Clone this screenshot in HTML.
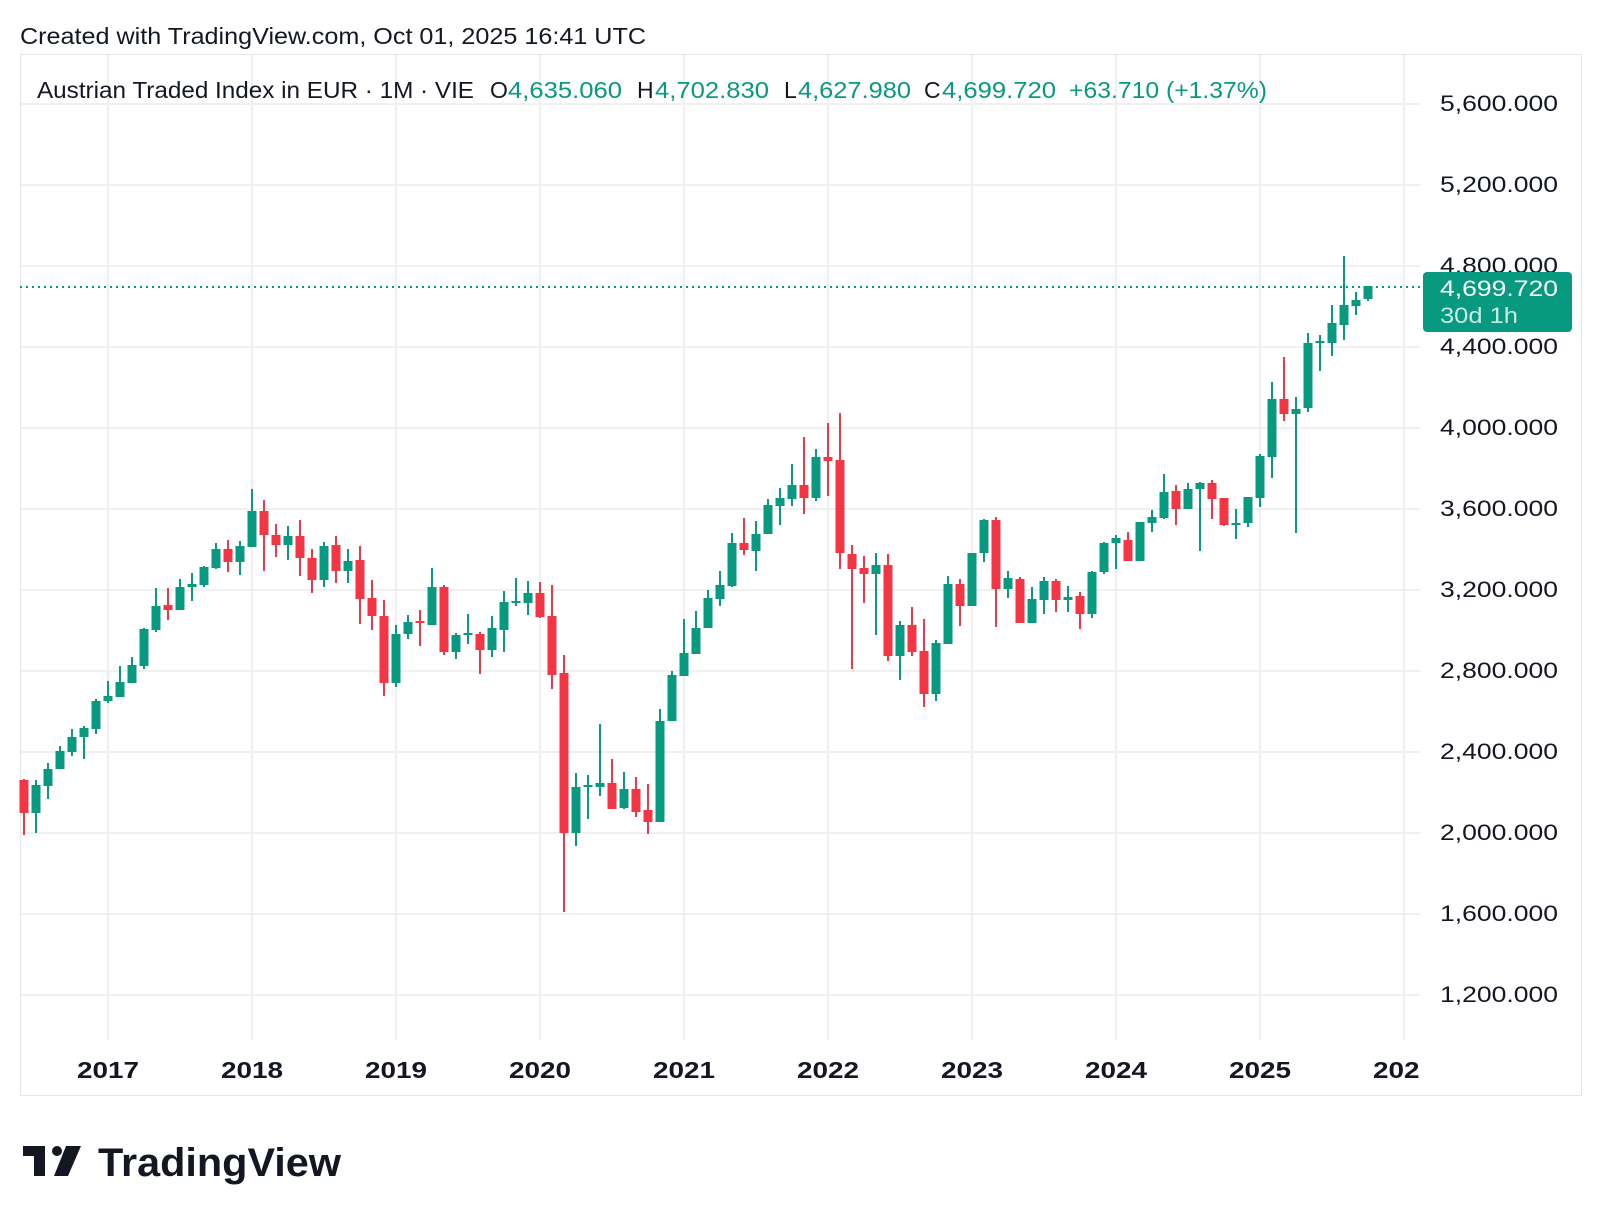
<!DOCTYPE html>
<html><head><meta charset="utf-8"><style>
html,body{margin:0;padding:0;background:#fff;}
body{width:1602px;height:1216px;overflow:hidden;}
svg{display:block;font-family:"Liberation Sans",sans-serif;}
</style></head><body>
<svg width="1602" height="1216" viewBox="0 0 1602 1216" xmlns="http://www.w3.org/2000/svg">
<rect x="0" y="0" width="1602" height="1216" fill="#fff"/>
<text x="20" y="44" font-size="23" fill="#131722" textLength="626" lengthAdjust="spacingAndGlyphs">Created with TradingView.com, Oct 01, 2025 16:41 UTC</text>
<rect x="20.5" y="54.5" width="1561" height="1041" fill="none" stroke="#e6e6e6" stroke-width="1"/>
<g stroke="#f0f0f0" stroke-width="2">
<line x1="21" x2="1420" y1="104" y2="104"/><line x1="21" x2="1420" y1="185" y2="185"/><line x1="21" x2="1420" y1="266" y2="266"/><line x1="21" x2="1420" y1="347" y2="347"/><line x1="21" x2="1420" y1="428" y2="428"/><line x1="21" x2="1420" y1="509" y2="509"/><line x1="21" x2="1420" y1="590" y2="590"/><line x1="21" x2="1420" y1="671" y2="671"/><line x1="21" x2="1420" y1="752" y2="752"/><line x1="21" x2="1420" y1="833" y2="833"/><line x1="21" x2="1420" y1="914" y2="914"/><line x1="21" x2="1420" y1="995" y2="995"/>
<line x1="108" x2="108" y1="55" y2="1040"/><line x1="252" x2="252" y1="55" y2="1040"/><line x1="396" x2="396" y1="55" y2="1040"/><line x1="540" x2="540" y1="55" y2="1040"/><line x1="684" x2="684" y1="55" y2="1040"/><line x1="828" x2="828" y1="55" y2="1040"/><line x1="972" x2="972" y1="55" y2="1040"/><line x1="1116" x2="1116" y1="55" y2="1040"/><line x1="1260" x2="1260" y1="55" y2="1040"/><line x1="1404" x2="1404" y1="55" y2="1040"/>
</g>
<g font-size="22" fill="#131722">
<text x="1440" y="111" textLength="118" lengthAdjust="spacingAndGlyphs">5,600.000</text><text x="1440" y="192" textLength="118" lengthAdjust="spacingAndGlyphs">5,200.000</text><text x="1440" y="273" textLength="118" lengthAdjust="spacingAndGlyphs">4,800.000</text><text x="1440" y="354" textLength="118" lengthAdjust="spacingAndGlyphs">4,400.000</text><text x="1440" y="435" textLength="118" lengthAdjust="spacingAndGlyphs">4,000.000</text><text x="1440" y="516" textLength="118" lengthAdjust="spacingAndGlyphs">3,600.000</text><text x="1440" y="597" textLength="118" lengthAdjust="spacingAndGlyphs">3,200.000</text><text x="1440" y="678" textLength="118" lengthAdjust="spacingAndGlyphs">2,800.000</text><text x="1440" y="759" textLength="118" lengthAdjust="spacingAndGlyphs">2,400.000</text><text x="1440" y="840" textLength="118" lengthAdjust="spacingAndGlyphs">2,000.000</text><text x="1440" y="921" textLength="118" lengthAdjust="spacingAndGlyphs">1,600.000</text><text x="1440" y="1002" textLength="118" lengthAdjust="spacingAndGlyphs">1,200.000</text>
</g>
<defs><clipPath id="pc"><rect x="20" y="1040" width="1400" height="60"/></clipPath></defs>
<g font-size="23" font-weight="bold" fill="#131722" clip-path="url(#pc)">
<text x="77" y="1078" textLength="62" lengthAdjust="spacingAndGlyphs">2017</text><text x="221" y="1078" textLength="62" lengthAdjust="spacingAndGlyphs">2018</text><text x="365" y="1078" textLength="62" lengthAdjust="spacingAndGlyphs">2019</text><text x="509" y="1078" textLength="62" lengthAdjust="spacingAndGlyphs">2020</text><text x="653" y="1078" textLength="62" lengthAdjust="spacingAndGlyphs">2021</text><text x="797" y="1078" textLength="62" lengthAdjust="spacingAndGlyphs">2022</text><text x="941" y="1078" textLength="62" lengthAdjust="spacingAndGlyphs">2023</text><text x="1085" y="1078" textLength="62" lengthAdjust="spacingAndGlyphs">2024</text><text x="1229" y="1078" textLength="62" lengthAdjust="spacingAndGlyphs">2025</text><text x="1373" y="1078" textLength="62" lengthAdjust="spacingAndGlyphs">2026</text>
</g>
<line x1="20" x2="1423" y1="287" y2="287" stroke="#089981" stroke-width="2" stroke-dasharray="2 4"/>
<g stroke="#f23645" stroke-width="2">
<line x1="24" x2="24" y1="779" y2="835"/><line x1="168" x2="168" y1="588" y2="620"/><line x1="228" x2="228" y1="540" y2="572"/><line x1="264" x2="264" y1="500" y2="571"/><line x1="276" x2="276" y1="524" y2="557"/><line x1="300" x2="300" y1="520" y2="576"/><line x1="312" x2="312" y1="549" y2="593"/><line x1="336" x2="336" y1="536" y2="583"/><line x1="360" x2="360" y1="546" y2="624"/><line x1="372" x2="372" y1="580" y2="630"/><line x1="384" x2="384" y1="600" y2="696"/><line x1="420" x2="420" y1="610" y2="646"/><line x1="444" x2="444" y1="585" y2="655"/><line x1="480" x2="480" y1="632" y2="674"/><line x1="540" x2="540" y1="582" y2="618"/><line x1="552" x2="552" y1="585" y2="689"/><line x1="564" x2="564" y1="655" y2="912"/><line x1="612" x2="612" y1="759" y2="809"/><line x1="636" x2="636" y1="777" y2="817"/><line x1="648" x2="648" y1="784" y2="834"/><line x1="744" x2="744" y1="518" y2="555"/><line x1="804" x2="804" y1="437" y2="514"/><line x1="828" x2="828" y1="423" y2="496"/><line x1="840" x2="840" y1="413" y2="569"/><line x1="852" x2="852" y1="545" y2="669"/><line x1="864" x2="864" y1="556" y2="603"/><line x1="888" x2="888" y1="554" y2="661"/><line x1="912" x2="912" y1="607" y2="656"/><line x1="924" x2="924" y1="619" y2="707"/><line x1="960" x2="960" y1="579" y2="626"/><line x1="996" x2="996" y1="517" y2="627"/><line x1="1020" x2="1020" y1="577" y2="623"/><line x1="1056" x2="1056" y1="579" y2="612"/><line x1="1080" x2="1080" y1="592" y2="629"/><line x1="1128" x2="1128" y1="532" y2="561"/><line x1="1176" x2="1176" y1="485" y2="525"/><line x1="1212" x2="1212" y1="480" y2="519"/><line x1="1224" x2="1224" y1="498" y2="526"/><line x1="1284" x2="1284" y1="357" y2="421"/>
</g>
<g fill="#f23645">
<rect x="19.5" y="780" width="9" height="33"/><rect x="163.5" y="605" width="9" height="5"/><rect x="223.5" y="549" width="9" height="13"/><rect x="259.5" y="511" width="9" height="24"/><rect x="271.5" y="535" width="9" height="10"/><rect x="295.5" y="536" width="9" height="22"/><rect x="307.5" y="558" width="9" height="22"/><rect x="331.5" y="545" width="9" height="26"/><rect x="355.5" y="560" width="9" height="39"/><rect x="367.5" y="598" width="9" height="18"/><rect x="379.5" y="616" width="9" height="67"/><rect x="415.5" y="621" width="9" height="2"/><rect x="439.5" y="587" width="9" height="65"/><rect x="475.5" y="634" width="9" height="16"/><rect x="535.5" y="593" width="9" height="24"/><rect x="547.5" y="616" width="9" height="59"/><rect x="559.5" y="673" width="9" height="160"/><rect x="607.5" y="783" width="9" height="26"/><rect x="631.5" y="789" width="9" height="23"/><rect x="643.5" y="810" width="9" height="12"/><rect x="739.5" y="543" width="9" height="7"/><rect x="799.5" y="485" width="9" height="13"/><rect x="823.5" y="457" width="9" height="4"/><rect x="835.5" y="460" width="9" height="93"/><rect x="847.5" y="554" width="9" height="15"/><rect x="859.5" y="568" width="9" height="6"/><rect x="883.5" y="565" width="9" height="91"/><rect x="907.5" y="625" width="9" height="27"/><rect x="919.5" y="651" width="9" height="43"/><rect x="955.5" y="584" width="9" height="22"/><rect x="991.5" y="520" width="9" height="69"/><rect x="1015.5" y="579" width="9" height="44"/><rect x="1051.5" y="581" width="9" height="19"/><rect x="1075.5" y="596" width="9" height="18"/><rect x="1123.5" y="540" width="9" height="21"/><rect x="1171.5" y="491" width="9" height="18"/><rect x="1207.5" y="483" width="9" height="16"/><rect x="1219.5" y="498" width="9" height="27"/><rect x="1279.5" y="399" width="9" height="15"/>
</g>
<g stroke="#089981" stroke-width="2">
<line x1="36" x2="36" y1="780" y2="833"/><line x1="48" x2="48" y1="763" y2="799"/><line x1="60" x2="60" y1="746" y2="769"/><line x1="72" x2="72" y1="729" y2="756"/><line x1="84" x2="84" y1="726" y2="759"/><line x1="96" x2="96" y1="699" y2="734"/><line x1="108" x2="108" y1="681" y2="703"/><line x1="120" x2="120" y1="666" y2="697"/><line x1="132" x2="132" y1="657" y2="683"/><line x1="144" x2="144" y1="628" y2="669"/><line x1="156" x2="156" y1="588" y2="632"/><line x1="180" x2="180" y1="579" y2="610"/><line x1="192" x2="192" y1="573" y2="601"/><line x1="204" x2="204" y1="566" y2="587"/><line x1="216" x2="216" y1="543" y2="569"/><line x1="240" x2="240" y1="541" y2="575"/><line x1="252" x2="252" y1="489" y2="547"/><line x1="288" x2="288" y1="526" y2="560"/><line x1="324" x2="324" y1="542" y2="587"/><line x1="348" x2="348" y1="549" y2="583"/><line x1="396" x2="396" y1="625" y2="687"/><line x1="408" x2="408" y1="615" y2="639"/><line x1="432" x2="432" y1="568" y2="625"/><line x1="456" x2="456" y1="633" y2="659"/><line x1="468" x2="468" y1="614" y2="644"/><line x1="492" x2="492" y1="616" y2="657"/><line x1="504" x2="504" y1="591" y2="652"/><line x1="516" x2="516" y1="578" y2="606"/><line x1="528" x2="528" y1="581" y2="615"/><line x1="576" x2="576" y1="773" y2="846"/><line x1="588" x2="588" y1="775" y2="819"/><line x1="600" x2="600" y1="724" y2="796"/><line x1="624" x2="624" y1="772" y2="809"/><line x1="660" x2="660" y1="709" y2="822"/><line x1="672" x2="672" y1="671" y2="721"/><line x1="684" x2="684" y1="619" y2="676"/><line x1="696" x2="696" y1="611" y2="654"/><line x1="708" x2="708" y1="590" y2="628"/><line x1="720" x2="720" y1="571" y2="606"/><line x1="732" x2="732" y1="533" y2="587"/><line x1="756" x2="756" y1="521" y2="571"/><line x1="768" x2="768" y1="499" y2="534"/><line x1="780" x2="780" y1="488" y2="525"/><line x1="792" x2="792" y1="464" y2="506"/><line x1="816" x2="816" y1="449" y2="501"/><line x1="876" x2="876" y1="553" y2="635"/><line x1="900" x2="900" y1="621" y2="680"/><line x1="936" x2="936" y1="640" y2="701"/><line x1="948" x2="948" y1="576" y2="644"/><line x1="972" x2="972" y1="553" y2="606"/><line x1="984" x2="984" y1="519" y2="562"/><line x1="1008" x2="1008" y1="571" y2="598"/><line x1="1032" x2="1032" y1="587" y2="623"/><line x1="1044" x2="1044" y1="577" y2="614"/><line x1="1068" x2="1068" y1="586" y2="612"/><line x1="1092" x2="1092" y1="571" y2="618"/><line x1="1104" x2="1104" y1="542" y2="574"/><line x1="1116" x2="1116" y1="535" y2="569"/><line x1="1140" x2="1140" y1="522" y2="561"/><line x1="1152" x2="1152" y1="510" y2="532"/><line x1="1164" x2="1164" y1="474" y2="519"/><line x1="1188" x2="1188" y1="483" y2="509"/><line x1="1200" x2="1200" y1="482" y2="551"/><line x1="1236" x2="1236" y1="509" y2="539"/><line x1="1248" x2="1248" y1="497" y2="527"/><line x1="1260" x2="1260" y1="454" y2="507"/><line x1="1272" x2="1272" y1="382" y2="478"/><line x1="1296" x2="1296" y1="397" y2="533"/><line x1="1308" x2="1308" y1="333" y2="412"/><line x1="1320" x2="1320" y1="335" y2="371"/><line x1="1332" x2="1332" y1="305" y2="356"/><line x1="1344" x2="1344" y1="256" y2="340"/><line x1="1356" x2="1356" y1="292" y2="315"/><line x1="1368" x2="1368" y1="286" y2="301"/>
</g>
<g fill="#089981">
<rect x="31.5" y="785" width="9" height="28"/><rect x="43.5" y="769" width="9" height="17"/><rect x="55.5" y="751" width="9" height="18"/><rect x="67.5" y="737" width="9" height="15"/><rect x="79.5" y="728" width="9" height="9"/><rect x="91.5" y="701" width="9" height="28"/><rect x="103.5" y="696" width="9" height="5"/><rect x="115.5" y="682" width="9" height="15"/><rect x="127.5" y="665" width="9" height="18"/><rect x="139.5" y="629" width="9" height="37"/><rect x="151.5" y="606" width="9" height="24"/><rect x="175.5" y="587" width="9" height="23"/><rect x="187.5" y="584" width="9" height="3"/><rect x="199.5" y="567" width="9" height="18"/><rect x="211.5" y="549" width="9" height="19"/><rect x="235.5" y="546" width="9" height="16"/><rect x="247.5" y="511" width="9" height="36"/><rect x="283.5" y="536" width="9" height="9"/><rect x="319.5" y="546" width="9" height="34"/><rect x="343.5" y="561" width="9" height="10"/><rect x="391.5" y="634" width="9" height="49"/><rect x="403.5" y="622" width="9" height="12"/><rect x="427.5" y="587" width="9" height="38"/><rect x="451.5" y="635" width="9" height="17"/><rect x="463.5" y="633" width="9" height="2"/><rect x="487.5" y="628" width="9" height="22"/><rect x="499.5" y="602" width="9" height="28"/><rect x="511.5" y="601" width="9" height="2"/><rect x="523.5" y="593" width="9" height="10"/><rect x="571.5" y="787" width="9" height="46"/><rect x="583.5" y="785" width="9" height="2"/><rect x="595.5" y="783" width="9" height="4"/><rect x="619.5" y="789" width="9" height="19"/><rect x="655.5" y="721" width="9" height="101"/><rect x="667.5" y="675" width="9" height="46"/><rect x="679.5" y="653" width="9" height="23"/><rect x="691.5" y="628" width="9" height="26"/><rect x="703.5" y="598" width="9" height="30"/><rect x="715.5" y="585" width="9" height="14"/><rect x="727.5" y="543" width="9" height="43"/><rect x="751.5" y="534" width="9" height="17"/><rect x="763.5" y="505" width="9" height="29"/><rect x="775.5" y="498" width="9" height="8"/><rect x="787.5" y="485" width="9" height="14"/><rect x="811.5" y="457" width="9" height="41"/><rect x="871.5" y="565" width="9" height="9"/><rect x="895.5" y="625" width="9" height="31"/><rect x="931.5" y="643" width="9" height="51"/><rect x="943.5" y="584" width="9" height="60"/><rect x="967.5" y="553" width="9" height="53"/><rect x="979.5" y="520" width="9" height="33"/><rect x="1003.5" y="578" width="9" height="11"/><rect x="1027.5" y="599" width="9" height="24"/><rect x="1039.5" y="581" width="9" height="19"/><rect x="1063.5" y="597" width="9" height="3"/><rect x="1087.5" y="572" width="9" height="42"/><rect x="1099.5" y="543" width="9" height="29"/><rect x="1111.5" y="538" width="9" height="5"/><rect x="1135.5" y="522" width="9" height="39"/><rect x="1147.5" y="517" width="9" height="6"/><rect x="1159.5" y="492" width="9" height="26"/><rect x="1183.5" y="489" width="9" height="20"/><rect x="1195.5" y="483" width="9" height="6"/><rect x="1231.5" y="523" width="9" height="2"/><rect x="1243.5" y="497" width="9" height="26"/><rect x="1255.5" y="456" width="9" height="42"/><rect x="1267.5" y="399" width="9" height="58"/><rect x="1291.5" y="409" width="9" height="5"/><rect x="1303.5" y="343" width="9" height="65"/><rect x="1315.5" y="341" width="9" height="2"/><rect x="1327.5" y="323" width="9" height="20"/><rect x="1339.5" y="305" width="9" height="20"/><rect x="1351.5" y="300" width="9" height="6"/><rect x="1363.5" y="286" width="9" height="13"/>
</g>
<rect x="1423" y="272" width="149" height="60" rx="4" fill="#089981"/>
<text x="1440" y="296" font-size="22" fill="#fff" textLength="118" lengthAdjust="spacingAndGlyphs">4,699.720</text>
<text x="1440" y="323" font-size="22" fill="#c8ece4" textLength="78" lengthAdjust="spacingAndGlyphs">30d 1h</text>
<g font-size="23" fill="#131722">
<text x="37" y="98" textLength="437" lengthAdjust="spacingAndGlyphs">Austrian Traded Index in EUR · 1M · VIE</text>
<text x="490" y="98">O</text><text x="508" y="98" fill="#089981" textLength="114" lengthAdjust="spacingAndGlyphs">4,635.060</text>
<text x="637" y="98">H</text><text x="655" y="98" fill="#089981" textLength="114" lengthAdjust="spacingAndGlyphs">4,702.830</text>
<text x="784" y="98">L</text><text x="798" y="98" fill="#089981" textLength="113" lengthAdjust="spacingAndGlyphs">4,627.980</text>
<text x="924" y="98">C</text><text x="942" y="98" fill="#089981" textLength="114" lengthAdjust="spacingAndGlyphs">4,699.720</text>
<text x="1069" y="98" fill="#089981" textLength="198" lengthAdjust="spacingAndGlyphs">+63.710 (+1.37%)</text>
</g>
<g fill="#131722">
<rect x="23" y="1146" width="22" height="10"/><rect x="34" y="1146" width="11" height="30"/>
<circle cx="57" cy="1151" r="5"/>
<polygon points="66,1146 81,1146 68,1176 54,1176"/>
</g>
<text x="98" y="1176" font-size="40" font-weight="bold" fill="#131722" textLength="243" lengthAdjust="spacingAndGlyphs">TradingView</text>
</svg>
</body></html>
